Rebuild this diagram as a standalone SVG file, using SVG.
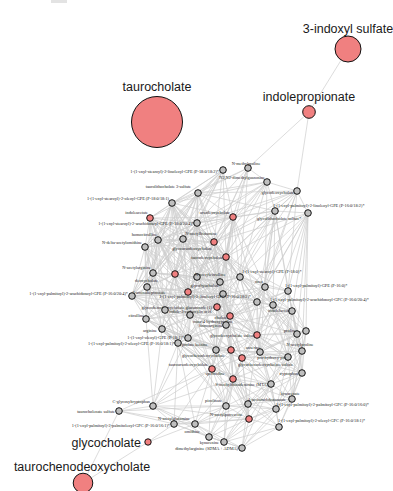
<svg xmlns="http://www.w3.org/2000/svg" width="393" height="491" viewBox="0 0 393 491">
<style>
.e{fill:none;stroke:#cdcdcd;stroke-width:0.7}
.g{fill:#bfbfbf;stroke:#111;stroke-width:1}
.r{fill:#f08080;stroke:#111;stroke-width:1}
.R{fill:#f08080;stroke:#111;stroke-width:1}
.s{font-family:"Liberation Serif","Times New Roman",serif;font-size:4.3px;fill:#222}
.L{font-family:"Liberation Sans",Arial,sans-serif;font-size:12.5px;fill:#1a1a1a}
.m{text-anchor:middle}.n{text-anchor:end}
</style>
<rect x="0" y="0" width="393" height="491" fill="#fff"/>
<rect x="51" y="0" width="16" height="3" fill="#e3e3e3"/>
<g id="edges" class="e">
<path d="M348 49L309 112M309 112L248 168M309 112L297 191M148 442L83 483"/>
<path d="M223 170L198 193M223 170L172 203M223 170L150 218M223 170L233 217M223 170L197 223M223 170L183 239M223 170L214 242M223 170L226 257M223 170L158 240M223 170L175 274M223 170L153 273M223 170L145 247"/>
<path d="M248 168L267 182M248 168L198 193M248 168L172 203M248 168L233 217M248 168L226 257M248 168L214 242M248 168L240 277M248 168L197 223M248 168L197 277"/>
<path d="M267 182L233 217M267 182L198 193M267 182L275 211M267 182L226 257M267 182L214 242M267 182L240 277M267 182L197 223M267 182L183 239M267 182L172 203M267 182L197 277M267 182L265 287M267 182L297 191"/>
<path d="M297 191L233 217M297 191L275 211M297 191L308 213M297 191L226 257M297 191L240 277M297 191L214 242M297 191L197 223M297 191L265 287M297 191L257 302M297 191L198 193M297 191L288 291"/>
<path d="M198 193L172 203M198 193L150 218M198 193L233 217M198 193L197 223M198 193L158 240M198 193L145 247M198 193L183 239M198 193L214 242M198 193L226 257M198 193L153 273M198 193L175 274M198 193L197 277M198 193L220 282M198 193L147 287M198 193L188 292M198 193L275 211M198 193L132 296"/>
<path d="M172 203L150 218M172 203L197 223M172 203L158 240M172 203L145 247M172 203L183 239M172 203L214 242M172 203L226 257M172 203L153 273M172 203L175 274M172 203L197 277M172 203L240 277M172 203L220 282M172 203L147 287M172 203L132 296M172 203L188 292M172 203L223 294M172 203L217 307M172 203L165 310M172 203L190 315M172 203L233 217"/>
<path d="M150 218L197 223M150 218L158 240M150 218L145 247M150 218L183 239M150 218L214 242M150 218L226 257M150 218L153 273M150 218L175 274M150 218L197 277M150 218L147 287M150 218L188 292M150 218L220 282M150 218L223 294M150 218L233 217M150 218L165 310M150 218L190 315"/>
<path d="M233 217L197 223M233 217L183 239M233 217L214 242M233 217L226 257M233 217L240 277M233 217L220 282M233 217L223 294M233 217L265 287M233 217L275 211M233 217L197 277M233 217L175 274M233 217L188 292M233 217L217 307M233 217L257 302M233 217L230 316M233 217L158 240"/>
<path d="M275 211L308 213M275 211L226 257M275 211L240 277M275 211L265 287M275 211L288 291M275 211L257 302M275 211L273 305M275 211L214 242M275 211L197 223M275 211L220 282M275 211L223 294M275 211L292 311M275 211L257 335"/>
<path d="M308 213L240 277M308 213L265 287M308 213L288 291M308 213L292 311M308 213L273 305M308 213L306 331M308 213L297 334M308 213L257 302M308 213L226 257M308 213L214 242M308 213L302 351M308 213L230 316"/>
<path d="M197 223L158 240M197 223L183 239M197 223L214 242M197 223L226 257M197 223L153 273M197 223L175 274M197 223L197 277M197 223L240 277M197 223L220 282M197 223L147 287M197 223L188 292M197 223L223 294M197 223L217 307M197 223L190 315M197 223L230 316M197 223L145 247M197 223L165 310M197 223L132 296"/>
<path d="M158 240L145 247M158 240L183 239M158 240L214 242M158 240L153 273M158 240L175 274M158 240L197 277M158 240L147 287M158 240L188 292M158 240L132 296M158 240L165 310M158 240L190 315M158 240L146 319M158 240L220 282M158 240L226 257M158 240L217 307"/>
<path d="M145 247L183 239M145 247L153 273M145 247L175 274M145 247L147 287M145 247L132 296M145 247L165 310M145 247L146 319M145 247L188 292M145 247L197 277M145 247L214 242M145 247L162 329M145 247L190 315"/>
<path d="M183 239L214 242M183 239L226 257M183 239L153 273M183 239L175 274M183 239L197 277M183 239L240 277M183 239L220 282M183 239L188 292M183 239L223 294M183 239L217 307M183 239L190 315M183 239L230 316M183 239L165 310M183 239L147 287"/>
<path d="M214 242L226 257M214 242L197 277M214 242L240 277M214 242L220 282M214 242L223 294M214 242L188 292M214 242L217 307M214 242L230 316M214 242L226 325M214 242L265 287M214 242L175 274M214 242L257 302M214 242L190 315M214 242L257 335"/>
<path d="M226 257L240 277M226 257L220 282M226 257L223 294M226 257L265 287M226 257L257 302M226 257L217 307M226 257L230 316M226 257L226 325M226 257L197 277M226 257L188 292M226 257L257 335M226 257L273 305M226 257L288 291M226 257L175 274M226 257L190 315"/>
<path d="M153 273L175 274M153 273L197 277M153 273L147 287M153 273L132 296M153 273L188 292M153 273L165 310M153 273L146 319M153 273L162 329M153 273L190 315M153 273L188 338M153 273L178 343M153 273L220 282M153 273L217 307"/>
<path d="M175 274L197 277M175 274L220 282M175 274L147 287M175 274L188 292M175 274L223 294M175 274L165 310M175 274L190 315M175 274L146 319M175 274L162 329M175 274L217 307M175 274L188 338M175 274L178 343M175 274L132 296M175 274L226 325M175 274L230 316"/>
<path d="M197 277L240 277M197 277L220 282M197 277L188 292M197 277L223 294M197 277L217 307M197 277L190 315M197 277L230 316M197 277L226 325M197 277L188 338M197 277L165 310M197 277L162 329M197 277L216 350M197 277L257 302M197 277L257 335"/>
<path d="M240 277L220 282M240 277L265 287M240 277L288 291M240 277L257 302M240 277L273 305M240 277L223 294M240 277L217 307M240 277L230 316M240 277L226 325M240 277L257 335M240 277L292 311M240 277L188 292M240 277L260 352M240 277L297 334"/>
<path d="M220 282L188 292M220 282L223 294M220 282L217 307M220 282L190 315M220 282L230 316M220 282L226 325M220 282L257 302M220 282L257 335M220 282L188 338M220 282L216 350M220 282L165 310M220 282L231 350"/>
<path d="M147 287L132 296M147 287L188 292M147 287L165 310M147 287L146 319M147 287L162 329M147 287L190 315M147 287L188 338M147 287L178 343M147 287L217 307M147 287L223 294"/>
<path d="M132 296L188 292M132 296L165 310M132 296L146 319M132 296L162 329M132 296L190 315M132 296L223 294M132 296L217 307M132 296L188 338M132 296L178 343M132 296L220 282"/>
<path d="M188 292L223 294M188 292L217 307M188 292L165 310M188 292L190 315M188 292L230 316M188 292L226 325M188 292L162 329M188 292L188 338M188 292L178 343M188 292L216 350M188 292L146 319M188 292L257 335M188 292L212 369"/>
<path d="M223 294L265 287M223 294L257 302M223 294L217 307M223 294L230 316M223 294L226 325M223 294L257 335M223 294L190 315M223 294L216 350M223 294L231 350M223 294L273 305M223 294L242 358M223 294L188 338"/>
<path d="M265 287L288 291M265 287L257 302M265 287L273 305M265 287L292 311M265 287L257 335M265 287L230 316M265 287L226 325M265 287L297 334M265 287L260 352M265 287L217 307M265 287L288 357"/>
<path d="M288 291L257 302M288 291L273 305M288 291L292 311M288 291L297 334M288 291L306 331M288 291L257 335M288 291L302 351M288 291L260 352M288 291L230 316M288 291L288 357"/>
<path d="M257 302L273 305M257 302L292 311M257 302L230 316M257 302L226 325M257 302L257 335M257 302L260 352M257 302L288 357M257 302L242 358M257 302L297 334M257 302L217 307M257 302L231 350M257 302L302 351"/>
<path d="M273 305L292 311M273 305L297 334M273 305L306 331M273 305L257 335M273 305L260 352M273 305L302 351M273 305L288 357M273 305L230 316M273 305L242 358M273 305L302 373"/>
<path d="M292 311L297 334M292 311L306 331M292 311L257 335M292 311L302 351M292 311L288 357M292 311L302 373M292 311L260 352M292 311L271 384M292 311L226 325"/>
<path d="M217 307L165 310M217 307L190 315M217 307L230 316M217 307L226 325M217 307L162 329M217 307L257 335M217 307L188 338M217 307L216 350M217 307L231 350M217 307L242 358M217 307L212 369M217 307L178 343M217 307L146 319"/>
<path d="M165 310L190 315M165 310L146 319M165 310L162 329M165 310L188 338M165 310L178 343M165 310L226 325M165 310L216 350M165 310L212 369M165 310L230 316"/>
<path d="M190 315L230 316M190 315L226 325M190 315L162 329M190 315L188 338M190 315L178 343M190 315L216 350M190 315L231 350M190 315L212 369M190 315L146 319M190 315L242 358M190 315L257 335"/>
<path d="M230 316L226 325M230 316L257 335M230 316L216 350M230 316L231 350M230 316L260 352M230 316L242 358M230 316L212 369M230 316L233 379M230 316L188 338M230 316L288 357M230 316L297 334"/>
<path d="M146 319L162 329M146 319L188 338M146 319L178 343M146 319L216 350M146 319L212 369M146 319L153 406"/>
<path d="M226 325L257 335M226 325L188 338M226 325L216 350M226 325L231 350M226 325L260 352M226 325L242 358M226 325L212 369M226 325L233 379M226 325L178 343M226 325L288 357M226 325L271 384"/>
<path d="M162 329L188 338M162 329L178 343M162 329L216 350M162 329L212 369M162 329L231 350M162 329L153 406M162 329L233 379M162 329L226 406"/>
<path d="M297 334L306 331M297 334L257 335M297 334L260 352M297 334L302 351M297 334L288 357M297 334L302 373M297 334L271 384M297 334L242 358M297 334L292 399"/>
<path d="M306 331L302 351M306 331L288 357M306 331L302 373M306 331L257 335M306 331L260 352M306 331L292 399"/>
<path d="M257 335L216 350M257 335L231 350M257 335L260 352M257 335L302 351M257 335L288 357M257 335L242 358M257 335L212 369M257 335L233 379M257 335L302 373M257 335L271 384M257 335L248 404"/>
<path d="M188 338L178 343M188 338L216 350M188 338L231 350M188 338L212 369M188 338L233 379M188 338L242 358M188 338L226 406M188 338L153 406"/>
<path d="M178 343L216 350M178 343L212 369M178 343L233 379M178 343L226 406M178 343L153 406M178 343L195 424M178 343L174 424M178 343L231 350"/>
<path d="M216 350L231 350M216 350L242 358M216 350L212 369M216 350L233 379M216 350L271 384M216 350L226 406M216 350L248 404M216 350L260 352M216 350L249 419"/>
<path d="M231 350L260 352M231 350L242 358M231 350L212 369M231 350L233 379M231 350L271 384M231 350L288 357M231 350L248 404M231 350L249 419M231 350L226 406"/>
<path d="M260 352L302 351M260 352L288 357M260 352L242 358M260 352L233 379M260 352L302 373M260 352L271 384M260 352L292 399M260 352L276 409"/>
<path d="M302 351L288 357M302 351L302 373M302 351L271 384M302 351L292 399M302 351L242 358M302 351L276 409"/>
<path d="M288 357L242 358M288 357L233 379M288 357L302 373M288 357L271 384M288 357L292 399M288 357L276 409M288 357L248 404"/>
<path d="M242 358L212 369M242 358L233 379M242 358L271 384M242 358L226 406M242 358L248 404M242 358L249 419M242 358L276 409M242 358L302 373"/>
<path d="M212 369L233 379M212 369L271 384M212 369L226 406M212 369L248 404M212 369L249 419M212 369L153 406M212 369L174 424M212 369L195 424M212 369L209 437"/>
<path d="M233 379L271 384M233 379L226 406M233 379L248 404M233 379L249 419M233 379L292 399M233 379L276 409M233 379L279 427M233 379L195 424M233 379L209 437M233 379L224 442"/>
<path d="M302 373L271 384M302 373L292 399M302 373L276 409M302 373L279 427M302 373L248 404"/>
<path d="M271 384L292 399M271 384L226 406M271 384L248 404M271 384L276 409M271 384L249 419M271 384L279 427M271 384L224 442M271 384L242 448"/>
<path d="M292 399L276 409M292 399L249 419M292 399L279 427M292 399L248 404M292 399L242 448"/>
<path d="M226 406L248 404M226 406L249 419M226 406L153 406M226 406L174 424M226 406L195 424M226 406L209 437M226 406L224 442M226 406L276 409"/>
<path d="M248 404L276 409M248 404L249 419M248 404L279 427M248 404L209 437M248 404L224 442M248 404L242 448M248 404L195 424"/>
<path d="M276 409L249 419M276 409L279 427M276 409L242 448M276 409L224 442"/>
<path d="M249 419L279 427M249 419L195 424M249 419L209 437M249 419L224 442M249 419L242 448M249 419L174 424M279 427L242 448M279 427L224 442"/>
<path d="M153 406L119 411M153 406L174 424M153 406L195 424M153 406L249 419M153 406L216 350M153 406L233 379M153 406L209 437"/>
<path d="M119 411L174 424M119 411L83 483M119 411L195 424M119 411L226 406M119 411L212 369"/>
<path d="M174 424L195 424M174 424L148 442M174 424L209 437M174 424L224 442M195 424L209 437M195 424L148 442M195 424L224 442M195 424L242 448M209 437L224 442M209 437L242 448M224 442L242 448"/>
</g>
<g id="n-taurocholate"><circle class="R" cx="157" cy="122" r="25.5"/><text class="L m" x="157" y="90.5">taurocholate</text></g>
<g id="n-3-indoxyl-sulfate"><circle class="R" cx="348" cy="49" r="13"/><text class="L m" x="348" y="32.5">3-indoxyl sulfate</text></g>
<g id="n-indolepropionate"><circle class="R" cx="309" cy="112" r="6.3"/><text class="L m" x="309" y="100.5">indolepropionate</text></g>
<g id="n-glycocholate"><circle class="R" cx="148" cy="442" r="3.2"/><text class="L n" x="141" y="446.5">glycocholate</text></g>
<g id="n-taurochenodeoxycholate"><circle class="R" cx="83" cy="483" r="9.8"/><text class="L m" x="82" y="471">taurochenodeoxycholate</text></g>
<g id="n-A"><circle class="g" cx="223" cy="170" r="3.3"/><text class="s n" x="219" y="173">1-(1-enyl-stearoyl)-2-linoleoyl-GPE (P-18:0/18:2)*</text></g>
<g id="n-B"><circle class="g" cx="248" cy="168" r="3.3"/><text class="s m" x="246" y="164.5">N-methylproline</text></g>
<g id="n-C"><circle class="g" cx="267" cy="182" r="3.3"/><text class="s n" x="265" y="179">N2,N2-dimethylguanosine</text></g>
<g id="n-D"><circle class="g" cx="297" cy="191" r="3.3"/><text class="s n" x="294" y="193.5">glycodeoxycholate</text></g>
<g id="n-E"><circle class="g" cx="198" cy="193" r="3.3"/><text class="s n" x="191" y="188">taurolithocholate 3-sulfate</text></g>
<g id="n-F"><circle class="g" cx="172" cy="203" r="3.3"/><text class="s n" x="169" y="199.5">1-(1-enyl-stearoyl)-2-oleoyl-GPE (P-18:0/18:1)</text></g>
<g id="n-G"><circle class="r" cx="150" cy="218" r="3.3"/><text class="s n" x="148" y="214">indoleacetate</text></g>
<g id="n-H"><circle class="r" cx="233" cy="217" r="3.3"/><text class="s n" x="230" y="213.5">ursodeoxycholate</text></g>
<g id="n-I"><circle class="g" cx="275" cy="211" r="3.3"/><text class="s" x="273" y="206.5">1-(1-enyl-palmitoyl)-2-linoleoyl-GPE (P-16:0/18:2)*</text></g>
<g id="n-J"><circle class="g" cx="308" cy="213" r="3.3"/><text class="s" x="257" y="219.5">glycolithocholate sulfate*</text></g>
<g id="n-K"><circle class="g" cx="197" cy="223" r="3.3"/><text class="s n" x="194" y="224.5">1-(1-enyl-stearoyl)-2-arachidonoyl-GPE (P-18:0/20:4)*</text></g>
<g id="n-L"><circle class="g" cx="158" cy="240" r="3.3"/><text class="s n" x="157" y="235.5">homocitrulline</text></g>
<g id="n-M"><circle class="g" cx="145" cy="247" r="3.3"/><text class="s n" x="142" y="243.5">N-delta-acetylornithine</text></g>
<g id="n-N"><circle class="g" cx="183" cy="239" r="3.3"/><text class="s m" x="201" y="234.5">N-acetylhistamine</text></g>
<g id="n-O"><circle class="r" cx="214" cy="242" r="3.3"/><text class="s n" x="212" y="249.5">glycoursodeoxycholate</text></g>
<g id="n-P"><circle class="r" cx="226" cy="257" r="3.3"/><text class="s n" x="223" y="259">taurodeoxycholate</text></g>
<g id="n-Q"><circle class="g" cx="153" cy="273" r="3.3"/><text class="s n" x="151" y="268.5">N-acetylarginine</text></g>
<g id="n-R"><circle class="r" cx="175" cy="274" r="3.3"/><text class="s n" x="158" y="281.5">deoxycholate</text></g>
<g id="n-S"><circle class="g" cx="197" cy="277" r="3.3"/><text class="s" x="195" y="275.5">N-acetylcitrulline</text></g>
<g id="n-T"><circle class="g" cx="240" cy="277" r="3.3"/><text class="s" x="242" y="272.5">1-(1-enyl-stearoyl)-GPE (P-18:0)*</text></g>
<g id="n-U"><circle class="g" cx="220" cy="282" r="3.3"/><text class="s n" x="219" y="286.5">glycohyocholate</text></g>
<g id="n-V"><circle class="g" cx="147" cy="287" r="3.3"/><text class="s m" x="149" y="293.5">2-aminoheptanoate</text></g>
<g id="n-W"><circle class="g" cx="132" cy="296" r="3.3"/><text class="s n" x="128" y="294.5">1-(1-enyl-palmitoyl)-2-arachidonoyl-GPE (P-16:0/20:4)*</text></g>
<g id="n-X"><circle class="r" cx="188" cy="292" r="3.3"/></g>
<g id="n-Y"><circle class="g" cx="223" cy="294" r="3.3"/></g>
<g id="n-Z"><circle class="g" cx="265" cy="287" r="3.3"/><text class="s m" x="259" y="283">urea</text></g>
<g id="n-a"><circle class="g" cx="288" cy="291" r="3.3"/><text class="s" x="285" y="286.5">1-(1-enyl-palmitoyl)-GPE (P-16:0)*</text></g>
<g id="n-b"><circle class="g" cx="257" cy="302" r="3.3"/><text class="s n" x="251" y="298">1-(1-enyl-palmitoyl)-2-linoleoyl-GPC (P-16:0/18:2)*</text></g>
<g id="n-c"><circle class="g" cx="273" cy="305" r="3.3"/><text class="s" x="270" y="300.5">1-(1-enyl-palmitoyl)-2-arachidonoyl-GPC (P-16:0/20:4)*</text></g>
<g id="n-d"><circle class="g" cx="292" cy="311" r="3.3"/><text class="s n" x="290" y="311.5">indolelactate</text></g>
<g id="n-e"><circle class="r" cx="217" cy="307" r="3.3"/><text class="s n" x="212" y="308.5">glycochenodeoxycholate glucuronide (1)</text></g>
<g id="n-f"><circle class="g" cx="165" cy="310" r="3.3"/><text class="s" x="169" y="312.5">indole-3-carboxylic acid</text></g>
<g id="n-g"><circle class="g" cx="190" cy="315" r="3.3"/><text class="s" x="193" y="322.5">trans-4-hydroxyproline</text></g>
<g id="n-h"><circle class="r" cx="230" cy="316" r="3.3"/><text class="s n" x="227" y="318.5">cholate</text></g>
<g id="n-i"><circle class="g" cx="146" cy="319" r="3.3"/><text class="s n" x="144" y="316.5">citrulline</text></g>
<g id="n-j"><circle class="g" cx="226" cy="325" r="3.3"/><text class="s n" x="223" y="326.5">homoarginine</text></g>
<g id="n-k"><circle class="g" cx="162" cy="329" r="3.3"/><text class="s n" x="157" y="332">arginine</text></g>
<g id="n-l"><circle class="g" cx="297" cy="334" r="3.3"/><text class="s m" x="290" y="331.5">proline</text></g>
<g id="n-m"><circle class="g" cx="306" cy="331" r="3.3"/></g>
<g id="n-n"><circle class="r" cx="257" cy="335" r="3.3"/><text class="s" x="210" y="336.5">glycodeoxycholate sulfate</text></g>
<g id="n-o"><circle class="g" cx="188" cy="338" r="3.3"/><text class="s n" x="184" y="338.5">1-(1-enyl-oleoyl)-GPE (P-18:1)*</text></g>
<g id="n-p"><circle class="g" cx="178" cy="343" r="3.3"/><text class="s n" x="175" y="344.5">1-(1-enyl-palmitoyl)-2-oleoyl-GPE (P-16:0/18:1)*</text></g>
<g id="n-q"><circle class="g" cx="216" cy="350" r="3.3"/><text class="s" x="182" y="345.5">proline betaine</text></g>
<g id="n-r"><circle class="r" cx="231" cy="350" r="3.3"/><text class="s" x="182" y="356.5">glycochenodeoxycholate</text></g>
<g id="n-s"><circle class="g" cx="260" cy="352" r="3.3"/><text class="s m" x="253" y="348.5">anserine</text></g>
<g id="n-t"><circle class="g" cx="302" cy="351" r="3.3"/><text class="s m" x="300" y="345.5">N-acetylproline</text></g>
<g id="n-u"><circle class="g" cx="288" cy="357" r="3.3"/><text class="s n" x="286" y="359">pro-hydroxy-pro</text></g>
<g id="n-v"><circle class="r" cx="242" cy="358" r="3.3"/><text class="s" x="238" y="365.5">glycochenodeoxycholate sulfate</text></g>
<g id="n-w"><circle class="r" cx="212" cy="369" r="3.3"/><text class="s n" x="208" y="365.5">tauroursodeoxycholate</text></g>
<g id="n-x"><circle class="r" cx="233" cy="379" r="3.3"/><text class="s m" x="215" y="375">spermidine</text></g>
<g id="n-y"><circle class="g" cx="302" cy="373" r="3.3"/><text class="s n" x="298" y="374.5">tryptophan</text></g>
<g id="n-z"><circle class="g" cx="271" cy="384" r="3.3"/><text class="s n" x="268" y="386">S-methylthioadenosine (MTA)</text></g>
<g id="n-AA"><circle class="g" cx="292" cy="399" r="3.3"/><text class="s m" x="290" y="394.5">kynurenate</text></g>
<g id="n-AB"><circle class="g" cx="226" cy="406" r="3.3"/><text class="s n" x="222" y="401.5">picolinate</text></g>
<g id="n-AC"><circle class="g" cx="248" cy="404" r="3.3"/><text class="s n" x="286" y="400.5">4-acetamidobutanoate</text></g>
<g id="n-AD"><circle class="g" cx="276" cy="409" r="3.3"/><text class="s" x="276" y="405.5">1-(1-enyl-palmitoyl)-2-palmitoyl-GPC (P-16:0/16:0)*</text></g>
<g id="n-AE"><circle class="r" cx="249" cy="419" r="3.3"/><text class="s" x="210" y="416">N-acetylputrescine</text></g>
<g id="n-AF"><circle class="g" cx="279" cy="427" r="3.3"/><text class="s" x="278" y="421.5">1-(1-enyl-palmitoyl)-2-oleoyl-GPC (P-16:0/18:1)*</text></g>
<g id="n-AG"><circle class="g" cx="153" cy="406" r="3.3"/><text class="s n" x="150" y="402.5">C-glycosyltryptophan</text></g>
<g id="n-AH"><circle class="g" cx="119" cy="411" r="3.3"/><text class="s n" x="115" y="413">taurocholenate sulfate</text></g>
<g id="n-AI"><circle class="g" cx="174" cy="424" r="3.3"/><text class="s n" x="170" y="426.5">1-(1-enyl-palmitoyl)-2-palmitoleoyl-GPC (P-16:0/16:1)*</text></g>
<g id="n-AJ"><circle class="g" cx="195" cy="424" r="3.3"/><text class="s" x="158" y="420">N-acetylglutamine</text></g>
<g id="n-AK"><circle class="g" cx="209" cy="437" r="3.3"/><text class="s n" x="200" y="432.5">ornithine</text></g>
<g id="n-AL"><circle class="g" cx="224" cy="442" r="3.3"/><text class="s n" x="219" y="443.5">kynurenine</text></g>
<g id="n-AM"><circle class="g" cx="242" cy="448" r="3.3"/><text class="s n" x="238" y="449.5">dimethylarginine (SDMA + ADMA)</text></g>
</svg>
